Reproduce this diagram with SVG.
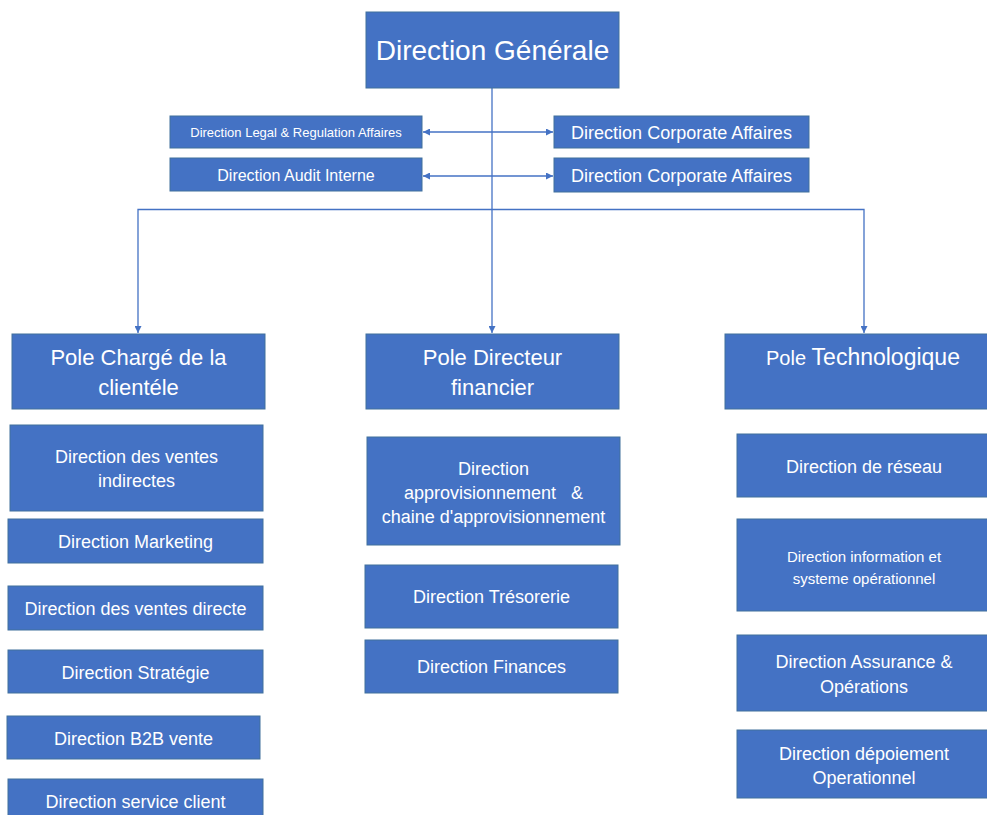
<svg xmlns="http://www.w3.org/2000/svg" width="987" height="815" viewBox="0 0 987 815">
<style>
.b{fill:#4472C4;stroke:#41719C;stroke-width:1}
.t{fill:#ffffff;font-family:"Liberation Sans",Arial,sans-serif;font-size:18px;text-anchor:middle}
.c{fill:none;stroke:#4472C4;stroke-width:1.3}
</style>
<defs>
<marker id="ah" viewBox="0 0 10 10" refX="10" refY="5" markerWidth="7" markerHeight="7" orient="auto-start-reverse" markerUnits="userSpaceOnUse">
<path d="M0,0 L10,5 L0,10 z" fill="#4472C4"/>
</marker>
</defs>
<g id="connectors">
<line class="c" x1="492" y1="88" x2="492" y2="333" marker-end="url(#ah)"/>
<polyline class="c" points="138,333 138,209.5 864,209.5 864,333" marker-start="url(#ah)" marker-end="url(#ah)"/>
<line class="c" x1="423" y1="132" x2="553" y2="132" marker-start="url(#ah)" marker-end="url(#ah)"/>
<line class="c" x1="423" y1="176" x2="553" y2="176" marker-start="url(#ah)" marker-end="url(#ah)"/>
</g>
<g id="dg"><rect class="b" x="366" y="12" width="253" height="76"/><text class="t" x="492.5" y="60" style="font-size:28px">Direction Générale</text></g>
<g id="legal"><rect class="b" x="170" y="116" width="252" height="32"/><text class="t" x="296" y="137" style="font-size:13px">Direction Legal &amp; Regulation Affaires</text></g>
<g id="audit"><rect class="b" x="170" y="158" width="252" height="33"/><text class="t" x="296" y="181" style="font-size:16px">Direction Audit Interne</text></g>
<g id="corp1"><rect class="b" x="554" y="116" width="255" height="32"/><text class="t" x="681.5" y="139">Direction Corporate Affaires</text></g>
<g id="corp2"><rect class="b" x="554" y="158" width="255" height="34"/><text class="t" x="681.5" y="182">Direction Corporate Affaires</text></g>
<g id="pole-client"><rect class="b" x="12" y="334" width="253" height="75"/><text class="t" x="138.5" y="365" style="font-size:22px">Pole Chargé de la</text><text class="t" x="138.5" y="395" style="font-size:22px">clientéle</text></g>
<g id="pole-fin"><rect class="b" x="366" y="334" width="253" height="75"/><text class="t" x="492.5" y="365" style="font-size:22px">Pole Directeur</text><text class="t" x="492.5" y="395" style="font-size:22px">financier</text></g>
<g id="pole-tech"><rect class="b" x="725" y="334" width="266" height="75"/><text class="t" x="766" y="365" style="text-anchor:start;font-size:20px">Pole <tspan style="font-size:23px">Technologique</tspan></text></g>
<g id="ventes-ind"><rect class="b" x="10" y="425" width="253" height="86"/><text class="t" x="136.5" y="463">Direction des ventes</text><text class="t" x="136.5" y="487">indirectes</text></g>
<g id="marketing"><rect class="b" x="8" y="519" width="255" height="44"/><text class="t" x="135.5" y="548">Direction Marketing</text></g>
<g id="ventes-dir"><rect class="b" x="8" y="586" width="255" height="44"/><text class="t" x="135.5" y="615">Direction des ventes directe</text></g>
<g id="strategie"><rect class="b" x="8" y="650" width="255" height="43"/><text class="t" x="135.5" y="679">Direction Stratégie</text></g>
<g id="b2b"><rect class="b" x="7" y="716" width="253" height="43"/><text class="t" x="133.5" y="745">Direction B2B vente</text></g>
<g id="service"><rect class="b" x="8" y="779" width="255" height="42"/><text class="t" x="135.5" y="808">Direction service client</text></g>
<g id="appro"><rect class="b" x="367" y="437" width="253" height="108"/><text class="t" x="493.5" y="475">Direction</text><text class="t" x="493.5" y="499" xml:space="preserve">approvisionnement   &amp;</text><text class="t" x="493.5" y="523">chaine d'approvisionnement</text></g>
<g id="tresorerie"><rect class="b" x="365" y="565" width="253" height="63"/><text class="t" x="491.5" y="603">Direction Trésorerie</text></g>
<g id="finances"><rect class="b" x="365" y="640" width="253" height="53"/><text class="t" x="491.5" y="673">Direction Finances</text></g>
<g id="reseau"><rect class="b" x="737" y="434" width="254" height="63"/><text class="t" x="864" y="473">Direction de réseau</text></g>
<g id="info"><rect class="b" x="737" y="519" width="254" height="92"/><text class="t" x="864" y="562" style="font-size:15px">Direction information et</text><text class="t" x="864" y="584" style="font-size:15px">systeme opérationnel</text></g>
<g id="assurance"><rect class="b" x="737" y="635" width="254" height="76"/><text class="t" x="864" y="668">Direction Assurance &amp;</text><text class="t" x="864" y="693">Opérations</text></g>
<g id="deploiement"><rect class="b" x="737" y="730" width="254" height="68"/><text class="t" x="864" y="760">Direction dépoiement</text><text class="t" x="864" y="784">Operationnel</text></g>
</svg>
